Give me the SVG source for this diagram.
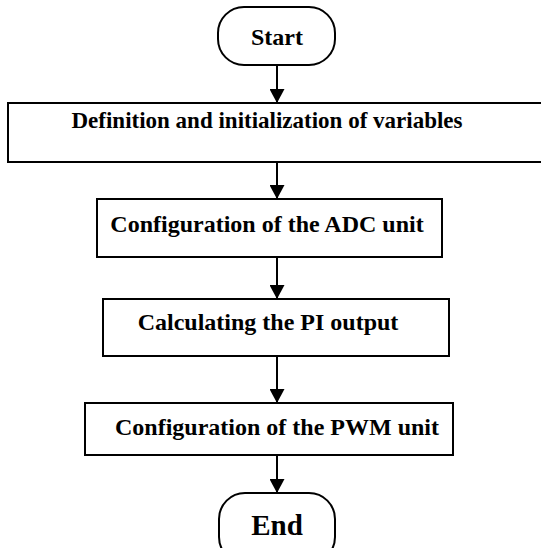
<svg xmlns="http://www.w3.org/2000/svg" width="541" height="548" viewBox="0 0 541 548">
<defs>
<style>
.box{fill:#fff;stroke:#000;stroke-width:2}
.t{font-family:"Liberation Serif","Times New Roman",serif;font-weight:bold;fill:#000;text-anchor:middle}
.c{stroke:#000;stroke-width:2;fill:none}
</style>
<marker id="ah" markerWidth="14" markerHeight="15" refX="14" refY="7.5" orient="auto" markerUnits="userSpaceOnUse">
<path d="M0,0 L14,7.5 L0,15 Z" fill="#000"/>
</marker>
</defs>
<rect width="541" height="548" fill="#fff"/>
<g id="connectors">
<line class="c" x1="277" y1="65" x2="277" y2="103" marker-end="url(#ah)"/>
<line class="c" x1="277" y1="162" x2="277" y2="199" marker-end="url(#ah)"/>
<line class="c" x1="277" y1="257" x2="277" y2="299" marker-end="url(#ah)"/>
<line class="c" x1="277" y1="356" x2="277" y2="403" marker-end="url(#ah)"/>
<line class="c" x1="277" y1="455" x2="277" y2="493" marker-end="url(#ah)"/>
</g>
<g id="start">
<rect class="box" x="218" y="7" width="117" height="58" rx="26" ry="26"/>
<text class="t" x="277" y="45" font-size="24">Start</text>
</g>
<g id="define">
<rect class="box" x="8" y="103" width="540" height="59"/>
<text class="t" x="267" y="128" font-size="23">Definition and initialization of variables</text>
</g>
<g id="adc">
<rect class="box" x="97" y="199" width="345" height="58"/>
<text class="t" x="267" y="232" font-size="24">Configuration of the ADC unit</text>
</g>
<g id="pi">
<rect class="box" x="103" y="299" width="346" height="57"/>
<text class="t" x="268" y="330" font-size="24">Calculating the PI output</text>
</g>
<g id="pwm">
<rect class="box" x="85" y="403" width="368" height="52"/>
<text class="t" x="277" y="435" font-size="24">Configuration of the PWM unit</text>
</g>
<g id="end">
<rect class="box" x="219" y="493" width="116" height="70" rx="26" ry="26"/>
<text class="t" x="277" y="535" font-size="29">End</text>
</g>
</svg>
